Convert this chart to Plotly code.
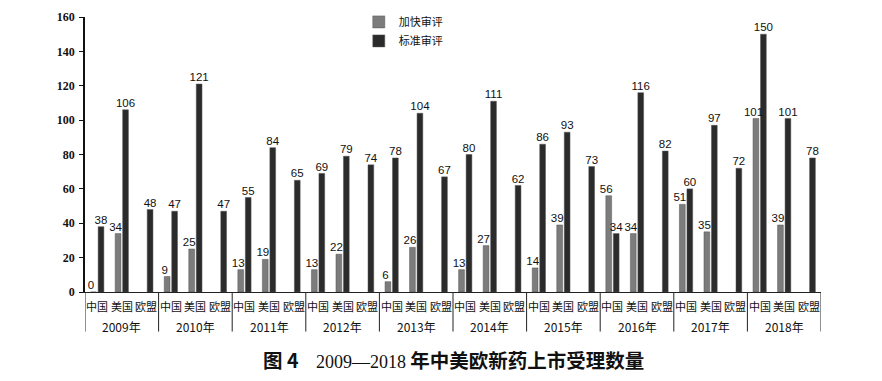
import plotly.graph_objects as go

years = ["2009年", "2010年", "2011年", "2012年", "2013年", "2014年", "2015年", "2016年", "2017年", "2018年"]
regions = ["中国", "美国", "欧盟"]
# per year: [中国, 美国, 欧盟]
fast_track = [
    [0, 34, None], [9, 25, None], [13, 19, None], [13, 22, None], [6, 26, None],
    [13, 27, None], [14, 39, None], [56, 34, None], [51, 35, None], [101, 39, None],
]
standard = [
    [38, 106, 48], [47, 121, 47], [55, 84, 65], [69, 79, 74], [78, 104, 67],
    [80, 111, 62], [86, 93, 73], [34, 116, 82], [60, 97, 72], [150, 101, 78],
]
series_names = ["加快审评", "标准审评"]
y_ticks = [0, 20, 40, 60, 80, 100, 120, 140, 160]

CJK = "Noto Sans CJK SC"
xs = [i * 3 + j for i in range(len(years)) for j in range(3)]
fast_flat = [v for row in fast_track for v in row]
std_flat = [v for row in standard for v in row]

BW = 0.235   # bar width (category units)
GAP = 0.07
# name, values, colour, bar offset, label nudge
series = [
    (series_names[0], fast_flat, "#7c7c7c", -GAP / 2 - BW, -0.1),
    (series_names[1], std_flat, "#2b2b2b", GAP / 2, 0.0),
]

fig = go.Figure()
for name, vals, col, off, nudge in series:
    fig.add_trace(go.Bar(x=xs, y=vals, name=name, marker_color=col, width=BW, offset=off,
                         marker_line=dict(color="#555", width=0.5)))
# value labels drawn on top of all bars
for name, vals, col, off, nudge in series:
    pts = [(x + off + BW / 2 + nudge, v) for x, v in zip(xs, vals) if v is not None]
    fig.add_trace(go.Scatter(x=[p[0] for p in pts], y=[p[1] for p in pts], mode="text",
                             text=[str(p[1]) for p in pts], textposition="top center",
                             textfont=dict(family="Liberation Sans", size=11.5, color="#111"),
                             showlegend=False, hoverinfo="skip", cliponaxis=False))

L, R, T, B = 85, 61, 7, 89
plot_h = 381 - T - B
ext = -(333 - 292) / plot_h

shapes = []
for k in range(len(years) + 1):
    shapes.append(dict(type="line", xref="x", yref="paper", x0=k * 3 - 0.5, x1=k * 3 - 0.5,
                       y0=0, y1=ext, line=dict(color="#222", width=1)))

annotations = []
for i, yr in enumerate(years):
    for j, r in enumerate(regions):
        annotations.append(dict(x=i * 3 + j, y=0, xref="x", yref="paper", text=r, showarrow=False,
                                yanchor="middle", yshift=-14, font=dict(family=CJK, size=11, color="#111")))
    annotations.append(dict(x=i * 3 + 1, y=0, xref="x", yref="paper", text=yr, showarrow=False,
                            yanchor="middle", yshift=-34, font=dict(family=CJK, size=12, color="#111")))

annotations.append(dict(
    x=0.5, y=-(362 - 292) / plot_h, xref="paper", yref="paper", yanchor="middle", showarrow=False,
    text="<b>图 4</b>&nbsp;&nbsp;&nbsp;&nbsp;<span style='font-family:Liberation Serif;font-size:18px'>2009—2018</span> <b>年中美欧新药上市受理数量</b>",
    font=dict(family=CJK, size=19.5, color="#111"),
))

fig.update_layout(
    width=882, height=381,
    margin=dict(l=L, r=R, t=T, b=B),
    plot_bgcolor="white", paper_bgcolor="white",
    barmode="overlay",
    showlegend=True,
    legend=dict(x=0.372, y=1.035, xanchor="left", yanchor="top", font=dict(family=CJK, size=11, color="#111"),
                bgcolor="rgba(0,0,0,0)", tracegroupgap=0, itemwidth=30),
    shapes=shapes, annotations=annotations,
    xaxis=dict(range=[-0.5, 29.5], showticklabels=False, ticks="", showgrid=False, zeroline=False,
               showline=True, linecolor="#222", linewidth=1),
    yaxis=dict(range=[0, 160.01], tickvals=y_ticks, ticktext=[f"<b>{t}</b>" for t in y_ticks],
               ticks="outside", ticklen=4, tickcolor="#111", ticklabeloverflow="allow",
               showline=True, linecolor="#111", linewidth=1.5, showgrid=False, zeroline=False,
               tickfont=dict(family="Liberation Serif", size=12, color="#111"), ticklabelstandoff=2),
)
fig.write_html("out.html")
